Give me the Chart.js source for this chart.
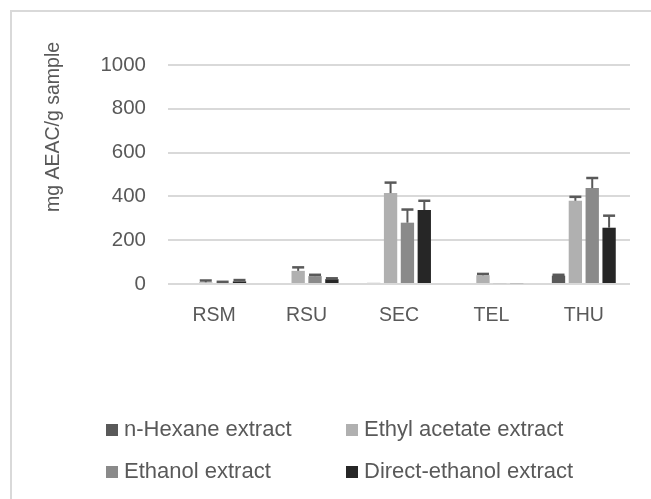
<!DOCTYPE html>
<html>
<head>
<meta charset="utf-8">
<script src="https://cdn.jsdelivr.net/npm/chart.js@4.4.0/dist/chart.umd.min.js"></script>
<style>
    html, body { margin: 0; padding: 0; background: #fff; }
    #wrap { position: relative; width: 651px; height: 499px; overflow: hidden; }
    #frame {
        position: absolute; left: 10px; top: 10px; width: 700px; height: 560px;
        border-left: 2px solid #d9d9d9; border-top: 2px solid #d9d9d9;
    }
    #chart { position: absolute; left: 0; top: 0; }
    .legend-item {
        position: absolute; font-family: 'Liberation Sans', Arial, sans-serif;
        font-size: 22px; color: #595959; line-height: 24px; white-space: nowrap;
    }
    .legend-item span.box {
        display: inline-block; width: 12px; height: 12px; margin-right: 6px;
        vertical-align: 0px;
    }
</style>
</head>
<body>
<div id="wrap">
    <div id="frame"></div>
    <canvas id="chart" width="651" height="499"></canvas>
    <div id="legend"></div>
</div>
<script>
// Antioxidant capacity per sample, mg AEAC/g sample
const categories = ['RSM', 'RSU', 'SEC', 'TEL', 'THU'];

const seriesNames = ['n-Hexane extract', 'Ethyl acetate extract', 'Ethanol extract', 'Direct-ethanol extract'];
const seriesColors = ['#595959', '#b0b0b0', '#8a8a8a', '#262626'];

const hexane = [0, 0, 5, 0, 38];
const ethylAcetate = [8, 60, 415, 40, 380];
const ethanol = [5, 36, 280, 4, 438];
const directEthanol = [12, 22, 338, 4, 257];

// upper error bars (standard deviation)
const hexaneErr = [0, 0, 0, 0, 4];
const ethylAcetateErr = [8, 16, 48, 6, 18];
const ethanolErr = [5, 6, 60, 0, 46];
const directEthanolErr = [6, 4, 42, 0, 55];

const yTicks = [0, 200, 400, 600, 800, 1000];

const seriesValues = [hexane, ethylAcetate, ethanol, directEthanol];
const seriesErrors = [hexaneErr, ethylAcetateErr, ethanolErr, directEthanolErr];

const textColor = '#595959';
const gridColor = '#d9d9d9';

// Draws the upper whisker and cap for every bar
const errorBars = {
    id: 'errorBars',
    afterDatasetsDraw(chart) {
        const ctx = chart.ctx;
        const yScale = chart.scales.y;
        ctx.save();
        ctx.strokeStyle = textColor;
        chart.data.datasets.forEach((ds, i) => {
            const meta = chart.getDatasetMeta(i);
            meta.data.forEach((bar, j) => {
                const err = ds.errors[j];
                if (!err) return;
                const top = yScale.getPixelForValue(ds.data[j] + err);
                ctx.lineWidth = 2;
                ctx.beginPath();
                ctx.moveTo(bar.x, bar.y);
                ctx.lineTo(bar.x, top);
                ctx.stroke();
                ctx.lineWidth = 2.5;
                ctx.beginPath();
                ctx.moveTo(bar.x - 6, top);
                ctx.lineTo(bar.x + 6, top);
                ctx.stroke();
            });
        });
        ctx.restore();
    }
};

// Rotated y-axis title, placed toward the top of the axis
const axisTitle = {
    id: 'axisTitle',
    afterDraw(chart) {
        const ctx = chart.ctx;
        ctx.save();
        ctx.translate(59, 127);
        ctx.rotate(-Math.PI / 2);
        ctx.font = '19.5px "Liberation Sans", Arial, sans-serif';
        ctx.fillStyle = textColor;
        ctx.textAlign = 'center';
        ctx.textBaseline = 'alphabetic';
        ctx.fillText('mg AEAC/g sample', 0, 0);
        ctx.restore();
    }
};

const datasets = seriesNames.map((name, i) => ({
    label: name,
    data: seriesValues[i],
    errors: seriesErrors[i],
    backgroundColor: seriesColors[i],
    borderWidth: 0,
    categoryPercentage: 0.73,
    barPercentage: 0.79
}));

new Chart(document.getElementById('chart'), {
    type: 'bar',
    data: { labels: categories, datasets: datasets },
    options: {
        responsive: false,
        devicePixelRatio: 1,
        animation: false,
        layout: { padding: { top: 65, right: 21, left: 0, bottom: 0 } },
        plugins: {
            legend: { display: false },
            tooltip: { enabled: false }
        },
        scales: {
            x: {
                grid: { display: false },
                border: { display: false },
                ticks: {
                    color: textColor,
                    padding: 12,
                    font: { family: 'Liberation Sans', size: 19.5 }
                },
                afterFit(scale) { scale.height = 215; }
            },
            y: {
                min: 0,
                max: 1000,
                afterBuildTicks(scale) { scale.ticks = yTicks.map(v => ({ value: v })); },
                grid: { color: gridColor, lineWidth: 2, drawTicks: false },
                border: { display: false },
                ticks: {
                    color: textColor,
                    padding: 22,
                    font: { family: 'Liberation Sans', size: 20.5 },
                    callback: (v) => String(v)
                },
                afterFit(scale) { scale.width = 168; }
            }
        }
    },
    plugins: [errorBars, axisTitle]
});

// Two-column legend under the plot
const legendPos = [
    { left: 106, top: 417 },
    { left: 346, top: 417 },
    { left: 106, top: 459 },
    { left: 346, top: 459 }
];
const legend = document.getElementById('legend');
seriesNames.forEach((name, i) => {
    const item = document.createElement('div');
    item.className = 'legend-item';
    item.style.left = legendPos[i].left + 'px';
    item.style.top = legendPos[i].top + 'px';
    item.innerHTML = '<span class="box" style="background:' + seriesColors[i] + '"></span>' + name;
    legend.appendChild(item);
});
</script>
</body>
</html>
